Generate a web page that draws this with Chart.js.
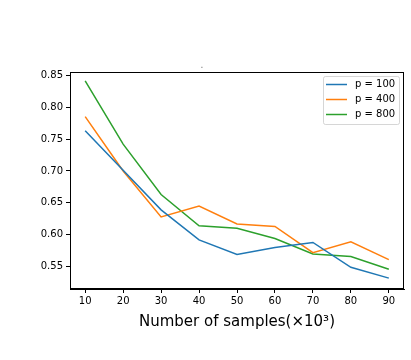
<!DOCTYPE html>
<html>
<head>
<meta charset="utf-8">
<script src="https://cdn.jsdelivr.net/npm/chart.js@4"></script>
<style>
html,body{margin:0;padding:0;background:#fff;}
#wrap{width:411px;height:360px;position:relative;}
</style>
</head>
<body>
<div id="wrap"><canvas id="c" width="411" height="360"></canvas></div>
<script>
const samples = [10, 20, 30, 40, 50, 60, 70, 80, 90];
const p100 = [0.763, 0.701, 0.639, 0.592, 0.569, 0.580, 0.588, 0.549, 0.532];
const p400 = [0.785, 0.700, 0.628, 0.645, 0.617, 0.613, 0.572, 0.589, 0.561];
const p800 = [0.841, 0.742, 0.663, 0.614, 0.610, 0.594, 0.570, 0.566, 0.546];
const seriesLabels = ['p = 100', 'p = 400', 'p = 800'];
const seriesColors = ['#1f77b4', '#ff7f0e', '#2ca02c'];
const xTicks = [10, 20, 30, 40, 50, 60, 70, 80, 90];
const yTicks = [0.55, 0.60, 0.65, 0.70, 0.75, 0.80, 0.85];
const xTitle = 'Number of samples(×10³)';
const chartTitle = '.';

const FONT = "'DejaVu Sans', sans-serif";
const allSeries = [p100, p400, p800];

const datasets = allSeries.map((vals, i) => ({
  label: seriesLabels[i],
  data: samples.map((x, j) => ({x: x, y: vals[j]})),
  borderColor: seriesColors[i],
  backgroundColor: seriesColors[i],
  borderWidth: 1.5,
  pointRadius: 0,
  tension: 0,
  fill: false
}));

const framePlugin = {
  id: 'frame',
  afterDatasetsDraw(chart) {
    const ctx = chart.ctx, a = chart.chartArea;
    ctx.save();
    ctx.strokeStyle = '#000';
    ctx.lineWidth = 1;
    ctx.strokeRect(Math.round(a.left) + 0.5, Math.round(a.top) + 0.5,
                   Math.round(a.right - a.left) - 1, Math.round(a.bottom - a.top) - 1);
    // legend
    const w = 76, h = 48;
    const bx = a.right - 5 - w, by = a.top + 4;
    ctx.globalAlpha = 0.8;
    ctx.fillStyle = '#fff';
    ctx.strokeStyle = '#cccccc';
    ctx.beginPath();
    ctx.roundRect(bx + 0.5, by + 0.5, w, h, 2);
    ctx.fill();
    ctx.stroke();
    ctx.globalAlpha = 1;
    ctx.font = '10px ' + FONT;
    ctx.textBaseline = 'middle';
    ctx.textAlign = 'left';
    chart.data.datasets.forEach((ds, i) => {
      const yy = by + 8.5 + i * 15;
      ctx.strokeStyle = ds.borderColor;
      ctx.lineWidth = 1.5;
      ctx.beginPath();
      ctx.moveTo(bx + 3, yy);
      ctx.lineTo(bx + 24, yy);
      ctx.stroke();
      ctx.fillStyle = '#000';
      ctx.fillText(ds.label, bx + 32, yy);
    });
    ctx.restore();
  }
};

new Chart(document.getElementById('c'), {
  type: 'line',
  data: { datasets: datasets },
  options: {
    responsive: false,
    animation: false,
    layout: { padding: { top: 63, right: 7, bottom: 25, left: 0 } },
    plugins: {
      legend: { display: false },
      tooltip: { enabled: false },
      title: {
        display: true,
        text: chartTitle,
        color: '#888',
        font: { family: FONT, size: 6, lineHeight: 1 },
        padding: { top: 0, bottom: 3 }
      }
    },
    scales: {
      x: {
        type: 'linear',
        min: 6, max: 94,
        afterBuildTicks(scale) { scale.ticks = xTicks.map(v => ({value: v})); },
        grid: { drawOnChartArea: false, drawTicks: true, tickLength: 4, tickColor: '#000' },
        border: { display: true, color: '#000', width: 1 },
        ticks: { color: '#000', font: { family: FONT, size: 10 }, padding: 2, maxRotation: 0 },
        title: { display: true, text: xTitle, color: '#000', font: { family: FONT, size: 15 }, padding: { top: 4, bottom: 4 } }
      },
      y: {
        min: 0.515, max: 0.855,
        afterBuildTicks(scale) { scale.ticks = yTicks.map(v => ({value: v})); },
        afterFit(scale) { scale.width = 70; },
        grid: { drawOnChartArea: false, drawTicks: true, tickLength: 4, tickColor: '#000' },
        border: { display: true, color: '#000', width: 1 },
        ticks: { color: '#000', font: { family: FONT, size: 10 }, padding: 3,
                 callback: v => v.toFixed(2) }
      }
    }
  },
  plugins: [framePlugin]
});
</script>
</body>
</html>
